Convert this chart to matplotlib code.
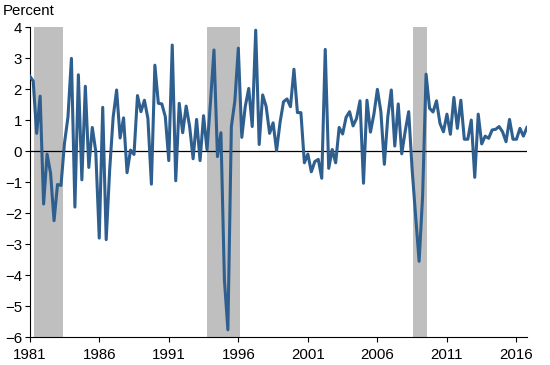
import numpy as np
import matplotlib
matplotlib.use('Agg')
import matplotlib.pyplot as plt

plt.rcParams['font.family'] = ['Liberation Sans', 'DejaVu Sans']

# quarterly values, 1981Q1 .. 2016Q4
start_year = 1981
values = [2.43, 2.27, 0.58, 1.78, -1.7, -0.09, -0.7, -2.24, -1.07, -1.1,
          0.26, 1.1, 3.0, -1.8, 2.47, -0.92, 2.1, -0.52, 0.77, 0.0,
          -2.8, 1.42, -2.85, -0.6, 1.1, 1.98, 0.43, 1.08, -0.69, 0.04,
          -0.1, 1.8, 1.28, 1.65, 1.06, -1.06, 2.78, 1.55, 1.53, 1.12,
          -0.3, 3.43, -0.95, 1.55, 0.6, 1.46, 0.8, -0.24, 1.03, -0.3,
          1.15, 0.05, 1.6, 3.27, -0.17, 0.6, -4.15, -5.76, 0.8, 1.62,
          3.33, 0.45, 1.45, 2.03, 0.8, 3.91, 0.22, 1.82, 1.45, 0.58,
          0.92, 0.02, 0.93, 1.6, 1.69, 1.44, 2.65, 1.25, 1.25, -0.37,
          -0.09, -0.66, -0.33, -0.26, -0.87, 3.29, -0.55, 0.06, -0.37, 0.77,
          0.56, 1.1, 1.28, 0.82, 1.06, 1.63, -1.03, 1.65, 0.62, 1.2,
          2.0, 1.28, -0.42, 1.12, 1.98, 0.17, 1.53, -0.08, 0.65, 1.28,
          -0.6, -2.1, -3.55, -1.46, 2.49, 1.39, 1.27, 1.63, 0.9, 0.63,
          1.2, 0.55, 1.74, 0.74, 1.65, 0.39, 0.39, 1.01, -0.84, 1.2,
          0.24, 0.49, 0.42, 0.69, 0.71, 0.8, 0.63, 0.31, 1.03, 0.39,
          0.39, 0.74, 0.49, 0.77]

# shaded periods (start, end) in fractional years
recessions = [(1981.3, 1983.4), (1993.75, 1996.1), (2008.55, 2009.6)]

year_ticks = [1981, 1986, 1991, 1996, 2001, 2006, 2011, 2016]
y_ticks = [-6, -5, -4, -3, -2, -1, 0, 1, 2, 3, 4]

x = start_year + np.arange(len(values)) / 4.0

fig = plt.figure(figsize=(5.5, 3.65), dpi=100)
ax = fig.add_axes([0.054, 0.076, 0.904, 0.849])

for s, e in recessions:
    ax.axvspan(s, e, color='#bfbfbf', lw=0, zorder=1)

ax.axhline(0, color='black', lw=0.9, zorder=2)
ax.plot(x, values, color='#2e5f8e', lw=2.2, zorder=3)

ax.set_xlim(x[0], x[-1])
ax.set_ylim(-6, 4)
ax.set_xticks(year_ticks)
ax.set_yticks(y_ticks)
ax.tick_params(axis='both', labelsize=10.8, colors='black', length=3.5, width=0.8, pad=2)
ax.tick_params(axis='x', pad=4)

for side in ['top', 'right']:
    ax.spines[side].set_visible(False)
for side in ['left', 'bottom']:
    ax.spines[side].set_linewidth(0.8)

fig.text(0.005, 0.99, 'Percent', fontsize=10.8, va='top', ha='left')

fig.savefig('out.png', dpi=100)
